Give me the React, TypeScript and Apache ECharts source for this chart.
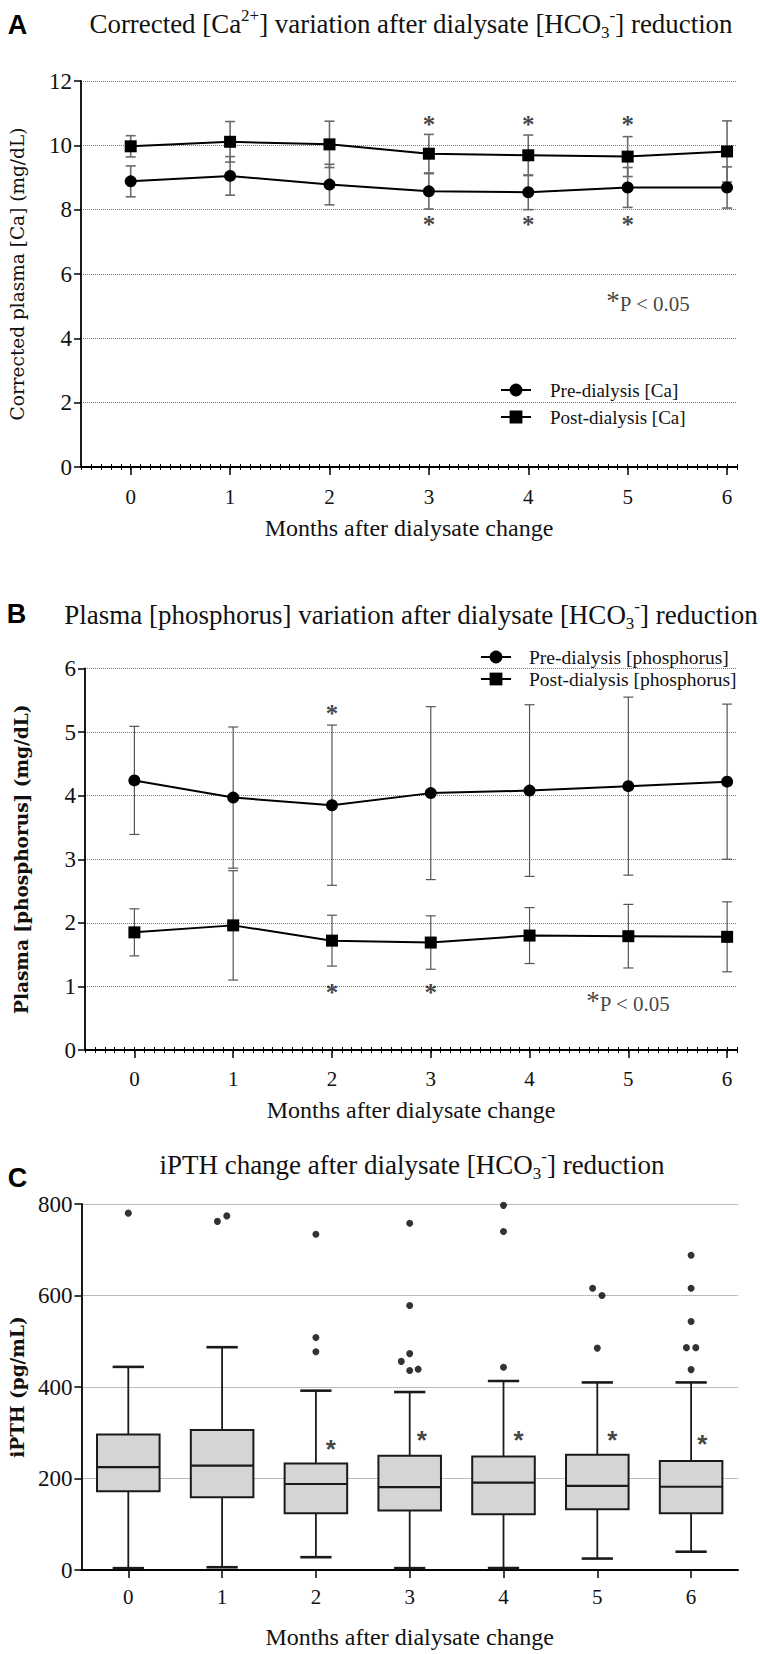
import { useEffect, useRef } from "react";
import * as echarts from "echarts";

// ---------- data ----------
const months = [0, 1, 2, 3, 4, 5, 6];
const monthsName = "Months after dialysate change";

// Panel A: corrected plasma Ca (mg/dL), mean and SD
const caPreMean = [8.88, 9.05, 8.78, 8.57, 8.54, 8.69, 8.69];
const caPreSD = [0.48, 0.6, 0.63, 0.55, 0.54, 0.62, 0.64];
const caPostMean = [9.97, 10.11, 10.03, 9.74, 9.69, 9.65, 9.81];
const caPostSD = [0.33, 0.63, 0.72, 0.6, 0.63, 0.62, 0.95];
const caStars = [[3, 10.73], [4, 10.73], [5, 10.73], [3, 7.62], [4, 7.62], [5, 7.62]];
const caPNote = [4.78, 5.1];

// Panel B: plasma phosphorus (mg/dL), mean and SD
const pPreMean = [4.24, 3.97, 3.85, 4.04, 4.08, 4.15, 4.22];
const pPreSD = [0.85, 1.11, 1.26, 1.36, 1.35, 1.4, 1.22];
const pPostMean = [1.85, 1.96, 1.72, 1.69, 1.8, 1.79, 1.78];
const pPostSD = [0.37, 0.86, 0.4, 0.42, 0.44, 0.5, 0.55];
const pStars = [[2, 5.34], [2, 0.945], [3, 0.945]];
const pPNote = [4.57, 0.74];

// Panel C: iPTH (pg/mL) box plots
const iMin = [4, 6, 28, 4, 4, 25, 40];
const iQ1 = [172, 159, 124, 130, 122, 133, 124];
const iMed = [225, 228, 188, 181, 191, 184, 182];
const iQ3 = [296, 306, 233, 250, 248, 252, 238];
const iMax = [444, 487, 392, 389, 413, 410, 410];
const iOutliers = [
  [0, 780],
  [0.95, 762], [1.05, 774],
  [2, 734], [2, 508], [2, 477],
  [3, 758], [3, 578], [3, 473], [2.91, 456], [3, 436], [3.09, 439],
  [4, 797], [4, 740], [4, 443],
  [4.95, 616], [5.05, 600], [5, 485],
  [6, 688], [6, 616], [6, 543], [5.95, 486], [6.05, 486], [6, 438],
];
const iStars = [[2.16, 276], [3.13, 296], [4.16, 296], [5.16, 296], [6.12, 286]];

const caYTicks = [0, 12, 2];
const pYTicks = [0, 6, 1];
const iYTicks = [0, 800, 200];

// ---------- styling helpers ----------
const SERIF = "Liberation Serif";
const INK = "#111";

function errorBarItem(hw: number, color: string, width: number) {
  return (params: any, api: any) => {
    const x = api.value(0);
    const lo = api.coord([x, api.value(1)]);
    const hi = api.coord([x, api.value(2)]);
    const style = { stroke: color, lineWidth: width, fill: null };
    return {
      type: "group",
      children: [
        { type: "line", shape: { x1: hi[0], y1: hi[1], x2: lo[0], y2: lo[1] }, style },
        { type: "line", shape: { x1: hi[0] - hw, y1: hi[1], x2: hi[0] + hw, y2: hi[1] }, style },
        { type: "line", shape: { x1: lo[0] - hw, y1: lo[1], x2: lo[0] + hw, y2: lo[1] }, style },
      ],
    };
  };
}

const boxWidthUnits = 0.667;
function boxItem(params: any, api: any) {
  const x = api.value(0);
  const pMin = api.coord([x, api.value(1)]);
  const pQ1 = api.coord([x, api.value(2)]);
  const pMed = api.coord([x, api.value(3)]);
  const pQ3 = api.coord([x, api.value(4)]);
  const pMax = api.coord([x, api.value(5)]);
  const half = api.size([boxWidthUnits, 0])[0] / 2;
  const cap = half / 2;
  const cx = pMed[0];
  const dark = "#1a1a1a";
  const w = { stroke: dark, lineWidth: 1.8, fill: null };
  const c = { stroke: dark, lineWidth: 2.6, fill: null };
  return {
    type: "group",
    children: [
      { type: "line", shape: { x1: cx, y1: pMax[1], x2: cx, y2: pQ3[1] }, style: w },
      { type: "line", shape: { x1: cx, y1: pQ1[1], x2: cx, y2: pMin[1] }, style: w },
      { type: "line", shape: { x1: cx - cap, y1: pMax[1], x2: cx + cap, y2: pMax[1] }, style: c },
      { type: "line", shape: { x1: cx - cap, y1: pMin[1], x2: cx + cap, y2: pMin[1] }, style: c },
      {
        type: "rect",
        shape: { x: cx - half, y: pQ3[1], width: half * 2, height: pQ1[1] - pQ3[1] },
        style: { fill: "#d5d5d5", stroke: dark, lineWidth: 2 },
      },
      { type: "line", shape: { x1: cx - half, y1: pMed[1], x2: cx + half, y2: pMed[1] }, style: { stroke: dark, lineWidth: 2.2 } },
    ],
  };
}

function mainXAxis(grid: number, max: number, labelMargin: number, nameGap: number) {
  return {
    type: "value",
    gridIndex: grid,
    position: "bottom",
    min: -0.5,
    max,
    axisLine: { show: true, onZero: false, lineStyle: { color: "#000", width: 2 } },
    axisTick: { show: true, customValues: months, length: 8, lineStyle: { color: "#000", width: 1.5 } },
    axisLabel: { show: true, customValues: months, margin: labelMargin, fontSize: 21, fontFamily: SERIF, color: INK },
    splitLine: { show: false },
    name: monthsName,
    nameLocation: "middle",
    nameGap,
    nameTextStyle: { fontSize: 24, fontFamily: SERIF, color: INK },
  };
}

function minorXAxis(grid: number, max: number, inside: boolean) {
  return {
    type: "value",
    gridIndex: grid,
    position: "bottom",
    min: -0.5,
    max,
    interval: 0.1,
    axisLine: { show: false, onZero: false },
    axisTick: { show: true, inside, length: 3, lineStyle: { color: "#000", width: 1 } },
    axisLabel: { show: false },
    splitLine: { show: false },
  };
}

function yAxis(grid: number, t: number[], name: string, nameGap: number, weight: string) {
  return {
    type: "value",
    gridIndex: grid,
    position: "left",
    min: t[0],
    max: t[1],
    interval: t[2],
    axisLine: { show: true, onZero: false, lineStyle: { color: "#000", width: 1.8 } },
    axisTick: { show: true, length: 7, lineStyle: { color: "#000", width: 1.5 } },
    axisLabel: { margin: 9, fontSize: 23, fontFamily: SERIF, color: INK },
    splitLine: { show: true, lineStyle: { type: "dotted", color: "#7a7a7a", width: 1 } },
    name,
    nameLocation: "middle",
    nameGap,
    nameTextStyle: { fontSize: 18.5, fontFamily: "DejaVu Serif", fontWeight: weight, color: INK },
  };
}

function lineSeries(name: string, xi: number, yi: number, mean: number[], symbol: string) {
  return {
    type: "line",
    name,
    xAxisIndex: xi,
    yAxisIndex: yi,
    data: months.map((m, i) => [m, mean[i]]),
    symbol,
    symbolSize: 12,
    showSymbol: true,
    lineStyle: { color: "#000", width: 2 },
    itemStyle: { color: "#000" },
    z: 4,
    silent: true,
  };
}

function errSeries(xi: number, yi: number, mean: number[], sd: number[], color: string, width: number) {
  return {
    type: "custom",
    xAxisIndex: xi,
    yAxisIndex: yi,
    data: months.map((m, i) => [m, mean[i] - sd[i], mean[i] + sd[i]]),
    encode: { x: 0, y: [1, 2] },
    renderItem: errorBarItem(5, color, width),
    z: 2,
    silent: true,
  };
}

function starSeries(xi: number, yi: number, pts: number[][], size: number, family: string, shift: number) {
  return {
    type: "scatter",
    xAxisIndex: xi,
    yAxisIndex: yi,
    data: pts,
    symbolSize: 1,
    itemStyle: { color: "rgba(0,0,0,0)" },
    silent: true,
    z: 6,
    label: {
      show: true,
      position: "inside",
      formatter: "*",
      fontFamily: family,
      fontWeight: "bold",
      fontSize: size,
      color: INK,
      offset: [0, size * shift],
    },
  };
}

function pNoteSeries(xi: number, yi: number, pt: number[]) {
  return {
    type: "scatter",
    xAxisIndex: xi,
    yAxisIndex: yi,
    data: [pt],
    symbolSize: 1,
    itemStyle: { color: "rgba(0,0,0,0)" },
    silent: true,
    z: 6,
    label: {
      show: true,
      position: "right",
      distance: 0,
      formatter: "{s|*}{t|P < 0.05}",
      rich: {
        s: { fontFamily: SERIF, fontSize: 27, color: INK, verticalAlign: "bottom", lineHeight: 24 },
        t: { fontFamily: SERIF, fontSize: 21, color: INK, verticalAlign: "bottom", lineHeight: 24 },
      },
    },
  };
}

function titleRich(size: number) {
  return {
    m: { fontSize: size, fontFamily: SERIF, fill: INK, lineHeight: 34, verticalAlign: "middle" },
    sup: { fontSize: 17, fontFamily: SERIF, fill: INK, lineHeight: 17, verticalAlign: "top" },
    sub: { fontSize: 17, fontFamily: SERIF, fill: INK, lineHeight: 17, verticalAlign: "bottom" },
  };
}

function titleText(x: number, y: number, text: string, size: number) {
  return {
    type: "text",
    x,
    y,
    silent: true,
    style: { text, rich: titleRich(size), align: "center", verticalAlign: "middle", fill: INK, fontFamily: SERIF, fontSize: size },
  };
}

function panelLetter(x: number, y: number, text: string) {
  return {
    type: "text",
    x,
    y,
    silent: true,
    style: {
      text,
      fontFamily: "Liberation Sans",
      fontWeight: "bold",
      fontSize: 27,
      fill: "#000",
      align: "center",
      verticalAlign: "middle",
    },
  };
}

function legend(names: string[], left: number, top: number, fontSize: number, lineHeight: number, gap: number, padLeft: number) {
  return {
    data: names,
    orient: "vertical",
    left,
    top,
    padding: 0,
    itemWidth: 30,
    itemHeight: 16,
    itemGap: gap,
    selectedMode: false,
    textStyle: { fontFamily: SERIF, fontSize, lineHeight, color: INK, padding: [0, 0, 0, padLeft] },
  };
}

export default function App() {
  const ref = useRef<HTMLDivElement>(null);

  useEffect(() => {
    if (!ref.current) return;
    const chart = echarts.init(ref.current, null, { renderer: "svg" });

    const option: any = {
      animation: false,
      backgroundColor: "#fff",
      textStyle: { fontFamily: SERIF },
      grid: [
        { left: 77, top: 81, width: 660, height: 386 },
        { left: 85, top: 668.5, width: 652, height: 381.5 },
        { left: 80, top: 1204, width: 658, height: 366 },
      ],
      xAxis: [
        mainXAxis(0, 6.1, 19, 49),
        minorXAxis(0, 6.1, false),
        minorXAxis(0, 6.1, true),
        mainXAxis(1, 6.1, 18.5, 48),
        minorXAxis(1, 6.1, false),
        minorXAxis(1, 6.1, true),
        mainXAxis(2, 6.5, 16.5, 55),
      ],
      yAxis: [
        yAxis(0, caYTicks, "Corrected plasma [Ca] (mg/dL)", 54, "normal"),
        yAxis(1, pYTicks, "Plasma [phosphorus] (mg/dL)", 54, "bold"),
        yAxis(2, iYTicks, "iPTH (pg/mL)", 51, "bold"),
      ],
      legend: [
        legend(["Pre-dialysis [Ca]", "Post-dialysis [Ca]"], 500, 380, 19, 20, 7, 14),
        legend(["Pre-dialysis [phosphorus]", "Post-dialysis [phosphorus]"], 480, 647, 19.5, 19.5, 2, 13),
      ],
      graphic: [
        panelLetter(17.5, 25, "A"),
        titleText(411, 24, "{m|Corrected [Ca}{sup|2+}{m|] variation after dialysate [HCO}{sub|3}{sup|-}{m|] reduction}", 26.9),
        panelLetter(16.5, 614, "B"),
        titleText(411, 615, "{m|Plasma [phosphorus] variation after dialysate [HCO}{sub|3}{sup|-}{m|] reduction}", 27),
        panelLetter(17.5, 1178, "C"),
        titleText(412, 1165, "{m|iPTH change after dialysate [HCO}{sub|3}{sup|-}{m|] reduction}", 27),
      ],
      series: [
        errSeries(0, 0, caPreMean, caPreSD, "#6a6a6a", 1.6),
        errSeries(0, 0, caPostMean, caPostSD, "#6a6a6a", 1.6),
        lineSeries("Pre-dialysis [Ca]", 0, 0, caPreMean, "circle"),
        lineSeries("Post-dialysis [Ca]", 0, 0, caPostMean, "rect"),
        starSeries(0, 0, caStars, 25, SERIF, 0.12),
        pNoteSeries(0, 0, caPNote),

        errSeries(3, 1, pPreMean, pPreSD, "#555", 1.2),
        errSeries(3, 1, pPostMean, pPostSD, "#555", 1.2),
        lineSeries("Pre-dialysis [phosphorus]", 3, 1, pPreMean, "circle"),
        lineSeries("Post-dialysis [phosphorus]", 3, 1, pPostMean, "rect"),
        starSeries(3, 1, pStars, 25, SERIF, 0.12),
        pNoteSeries(3, 1, pPNote),

        {
          type: "custom",
          xAxisIndex: 6,
          yAxisIndex: 2,
          data: months.map((m, i) => [m, iMin[i], iQ1[i], iMed[i], iQ3[i], iMax[i]]),
          encode: { x: 0, y: [1, 2, 3, 4, 5] },
          renderItem: boxItem,
          z: 2,
          silent: true,
        },
        {
          type: "scatter",
          xAxisIndex: 6,
          yAxisIndex: 2,
          data: iOutliers,
          symbol: "circle",
          symbolSize: 7,
          itemStyle: { color: "#000" },
          z: 4,
          silent: true,
        },
        starSeries(6, 2, iStars, 26, "Liberation Sans", 0.2),
      ],
    };

    chart.setOption(option);
    return () => chart.dispose();
  }, []);

  return (
    <div
      ref={ref}
      style={{ position: "absolute", left: 0, top: 0, width: 760, height: 1654, background: "#fff" }}
    />
  );
}
